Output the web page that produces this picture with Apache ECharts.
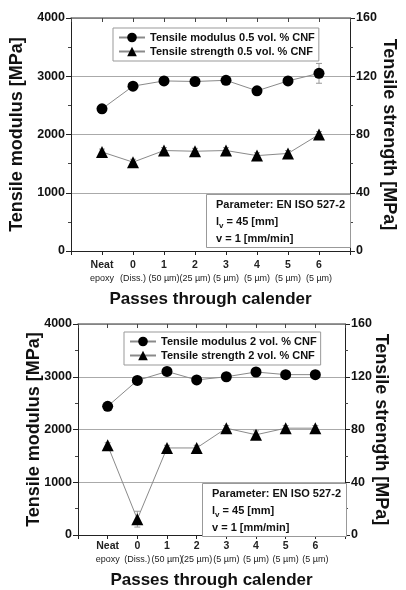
<!DOCTYPE html>
<html>
<head>
<meta charset="utf-8">
<script src="https://cdn.jsdelivr.net/npm/echarts@6/dist/echarts.min.js"></script>
<style>
  html, body { margin: 0; padding: 0; background: #fff; }
  #chart { width: 406px; height: 590px; }
</style>
</head>
<body>
<div id="chart"></div>
<script>
// x positions: index into these arrays
const passNums = ['Neat', '0', '1', '2', '3', '4', '5', '6']
const passNotes = ['epoxy', '(Diss.)', '(50 µm)', '(25 µm)', '(5 µm)', '(5 µm)', '(5 µm)', '(5 µm)']

// top panel: 0.5 vol. % CNF
const modulusA = [2440, 2830, 2920, 2910, 2930, 2750, 2920, 3050]
const modulusErrA = [20, 40, 30, 30, 40, 30, 40, 170]
const strengthA = [68, 61, 69, 68.5, 69, 65.5, 67, 80]
const strengthErrA = [2, 2, 2, 2, 2, 2, 2, 2]

// bottom panel: 2 vol. % CNF
const modulusB = [2440, 2930, 3100, 2940, 3000, 3090, 3040, 3040]
const modulusErrB = [20, 30, 30, 30, 30, 30, 30, 30]
const strengthB = [68, 12, 66, 66, 81, 76, 81, 81]
const strengthErrB = [2, 6, 2, 2, 2, 3, 2, 2]

const modulusTicks = { min: 0, max: 4000, interval: 1000 }
const strengthTicks = { min: 0, max: 160, interval: 40 }

const FONT = '"Liberation Sans", Arial, sans-serif'

const pts = (arr) => arr.map((v, i) => [i, v])
const errPts = (vals, errs) => vals.map((v, i) => [i, v - errs[i], v + errs[i]])

function errorBars(name, vals, errs, xi, yi) {
  return {
    name,
    type: 'custom',
    xAxisIndex: xi,
    yAxisIndex: yi,
    z: 1,
    silent: true,
    data: errPts(vals, errs),
    renderItem(params, api) {
      const lo = api.coord([api.value(0), api.value(1)])
      const hi = api.coord([api.value(0), api.value(2)])
      const style = { stroke: '#999', lineWidth: 1 }
      return {
        type: 'group',
        children: [
          { type: 'line', shape: { x1: lo[0], y1: lo[1], x2: hi[0], y2: hi[1] }, style },
          { type: 'line', shape: { x1: lo[0] - 3, y1: lo[1], x2: lo[0] + 3, y2: lo[1] }, style },
          { type: 'line', shape: { x1: hi[0] - 3, y1: hi[1], x2: hi[0] + 3, y2: hi[1] }, style },
        ],
      }
    },
  }
}

function lineSeries(name, vals, symbol, size, xi, yi) {
  return {
    name,
    type: 'line',
    xAxisIndex: xi,
    yAxisIndex: yi,
    data: pts(vals),
    symbol,
    symbolSize: size,
    z: 3,
    lineStyle: { color: '#8a8a8a', width: 1 },
    itemStyle: { color: '#000' },
  }
}

function xAxes(gi, nameGap, labelMargin) {
  return [
    {
      gridIndex: gi,
      type: 'value',
      position: 'bottom',
      min: -1, max: 8, interval: 1,
      name: 'Passes through calender',
      nameLocation: 'middle',
      nameGap,
      nameMoveOverlap: false,
      nameTextStyle: { fontFamily: FONT, fontSize: 17, fontWeight: 'bold', color: '#111' },
      axisLine: { onZero: false, lineStyle: { color: '#222', width: 1 } },
      axisTick: { length: 4, lineStyle: { color: '#222' } },
      splitLine: { show: false },
      axisLabel: {
        margin: labelMargin,
        formatter: (v) => (v >= 0 && v < passNums.length ? '{a|' + passNums[v] + '}\n{b|' + passNotes[v] + '}' : ''),
        rich: {
          a: { fontFamily: FONT, fontSize: 10.5, fontWeight: 'bold', color: '#222', lineHeight: 14 },
          b: { fontFamily: FONT, fontSize: 9, color: '#222', lineHeight: 13 },
        },
      },
    },
    {
      gridIndex: gi,
      type: 'value',
      position: 'top',
      min: -1, max: 8, interval: 1,
      axisLine: { onZero: false, lineStyle: { color: '#777', width: 1.5 } },
      axisTick: { inside: true, length: 4, lineStyle: { color: '#444' } },
      axisLabel: { show: false },
      splitLine: { show: false },
    },
  ]
}

function yAxes(gi, leftGap, rightGap) {
  const label = { fontFamily: FONT, fontSize: 12.5, fontWeight: 'bold', color: '#111', margin: 6, formatter: (v) => String(v) }
  const nameStyle = { fontFamily: FONT, fontSize: 18, fontWeight: 'bold', color: '#111' }
  return [
    {
      gridIndex: gi,
      type: 'value',
      position: 'left',
      ...modulusTicks,
      name: 'Tensile modulus [MPa]',
      nameLocation: 'middle',
      nameRotate: 90,
      nameGap: leftGap,
      nameMoveOverlap: false,
      nameTextStyle: nameStyle,
      axisLine: { show: true, onZero: false, lineStyle: { color: '#222' } },
      axisTick: { show: true, length: 5, lineStyle: { color: '#222' } },
      minorTick: { show: true, splitNumber: 2, length: 3, lineStyle: { color: '#444' } },
      axisLabel: label,
      splitLine: { show: true, lineStyle: { color: '#aaa', width: 1 } },
    },
    {
      gridIndex: gi,
      type: 'value',
      position: 'right',
      ...strengthTicks,
      name: 'Tensile strength [MPa]',
      nameLocation: 'middle',
      nameRotate: -90,
      nameGap: rightGap,
      nameMoveOverlap: false,
      nameTextStyle: nameStyle,
      axisLine: { show: true, onZero: false, lineStyle: { color: '#222' } },
      axisTick: { show: true, length: 5, lineStyle: { color: '#222' } },
      minorTick: { show: true, splitNumber: 2, length: 3, lineStyle: { color: '#444' } },
      axisLabel: label,
      splitLine: { show: false },
    },
  ]
}

function legend(names, left, top) {
  return {
    data: names,
    orient: 'vertical',
    left, top,
    padding: [4, 4, 4, 5],
    itemGap: 3,
    itemWidth: 26,
    itemHeight: 12,
    borderColor: '#999',
    borderWidth: 1,
    textStyle: { fontFamily: FONT, fontSize: 11, fontWeight: 'bold', color: '#111' },
  }
}

function noteBox(left, top) {
  return {
    left, top,
    padding: [5, 6, 4, 10],
    borderColor: '#999',
    borderWidth: 1,
    backgroundColor: '#fff',
    text: '{t|Parameter: EN ISO 527-2}\n{t|l}{s|v}{t| = 45 [mm]}\n{t|v = 1 [mm/min]}',
    textStyle: {
      rich: {
        t: { fontFamily: FONT, fontSize: 11, fontWeight: 'bold', color: '#111', lineHeight: 17 },
        s: { fontFamily: FONT, fontSize: 8, fontWeight: 'bold', color: '#111', lineHeight: 17, verticalAlign: 'bottom', padding: [6, 0, 0, 0] },
      },
    },
  }
}

const namesA = ['Tensile modulus 0.5 vol. % CNF', 'Tensile strength 0.5 vol. % CNF']
const namesB = ['Tensile modulus 2 vol. % CNF', 'Tensile strength 2 vol. % CNF']

const chart = echarts.init(document.getElementById('chart'))
chart.setOption({
  animation: false,
  backgroundColor: '#fff',
  grid: [
    { left: 69, right: 52, top: 18, height: 233 },
    { left: 78, right: 61, top: 324, height: 212 },
  ],
  xAxis: [...xAxes(0, 40, 7), ...xAxes(1, 37, 4)],
  yAxis: [...yAxes(0, 45, 30), ...yAxes(1, 35, 27)],
  legend: [legend(namesA, 113, 28), legend(namesB, 124, 332)],
  title: [noteBox(206, 191), noteBox(202, 480)],
  series: [
    errorBars('errA1', modulusA, modulusErrA, 0, 0),
    errorBars('errA2', strengthA, strengthErrA, 0, 1),
    lineSeries(namesA[0], modulusA, 'circle', 11, 0, 0),
    lineSeries(namesA[1], strengthA, 'triangle', 12, 0, 1),
    errorBars('errB1', modulusB, modulusErrB, 2, 2),
    errorBars('errB2', strengthB, strengthErrB, 2, 3),
    lineSeries(namesB[0], modulusB, 'circle', 11, 2, 2),
    lineSeries(namesB[1], strengthB, 'triangle', 12, 2, 3),
  ],
})
</script>
</body>
</html>
